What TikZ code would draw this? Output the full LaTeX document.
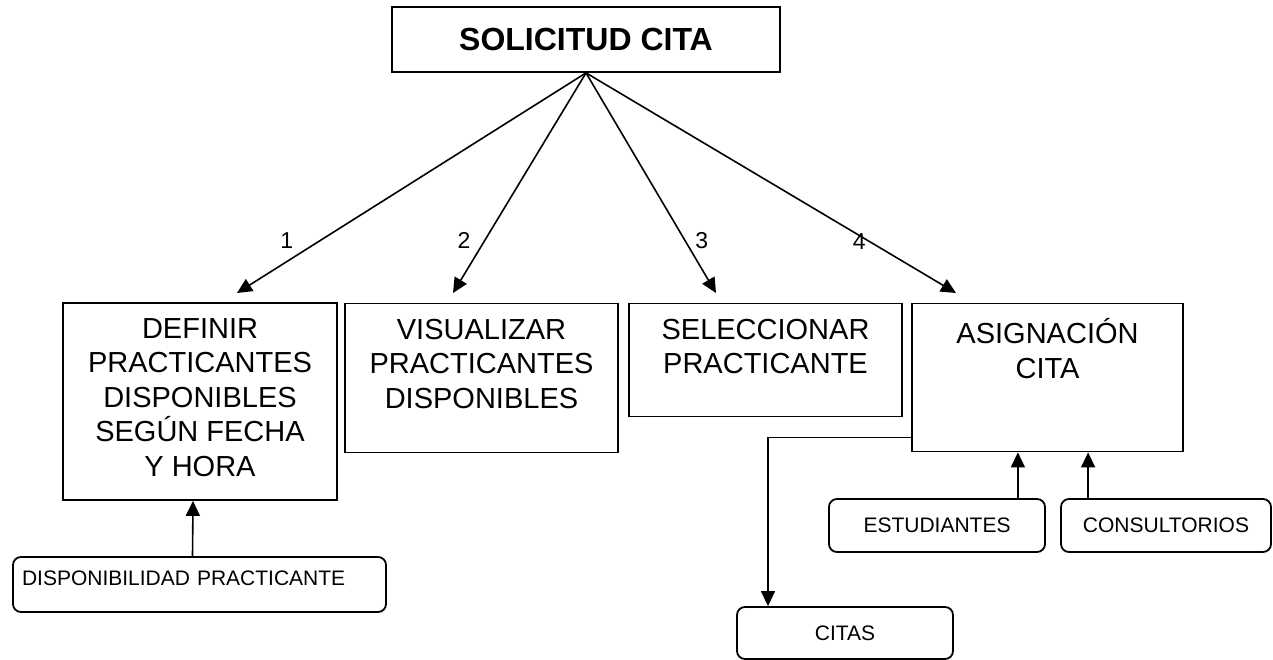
\documentclass[tikz,border=0pt]{standalone}
\usepackage{fontspec}
\setmainfont{Liberation Sans}
\usetikzlibrary{arrows.meta, positioning}

\begin{document}
\begin{tikzpicture}[
    x=1pt, y=-1pt,
    every node/.style={font=\fontsize{29}{34.5}\selectfont},
    proceso/.style={rectangle, draw, line width=1.8pt},
    texto/.style={inner sep=0pt, align=center, execute at begin node=\strut},
    tabla/.style={rectangle, draw, line width=1.8pt, rounded corners=8pt, font=\fontsize{21}{25}\selectfont},
    numero/.style={font=\fontsize{23}{27}\selectfont, inner sep=0pt},
    flecha/.style={-{Triangle[length=15pt,width=14pt]}, line width=1.6pt}
]
\useasboundingbox (0,0) rectangle (1273,660);

% Nodos
\node (solicitud) [proceso, minimum width=388pt, minimum height=65pt, font=\bfseries\fontsize{32}{38}\selectfont] at (586,39.5) {SOLICITUD CITA};

\node (definir) [proceso, minimum width=274pt, minimum height=197pt] at (200,401.5) {};
\node (definirtxt) [texto, below=16pt of definir.north] {DEFINIR\\PRACTICANTES\\DISPONIBLES\\SEGÚN FECHA\\Y HORA};
\node (visualizar) [proceso, minimum width=273pt, minimum height=149pt] at (481.5,378) {};
\node (visualizartxt) [texto, below=16pt of visualizar.north] {VISUALIZAR\\PRACTICANTES\\DISPONIBLES};
\node (seleccionar) [proceso, minimum width=273pt, minimum height=113pt] at (765.5,360) {};
\node (seleccionartxt) [texto, below=16pt of seleccionar.north] {SELECCIONAR\\PRACTICANTE};
\node (asignacion) [proceso, minimum width=271pt, minimum height=148pt] at (1047.5,377.5) {};
\node (asignaciontxt) [texto, below=16pt of asignacion.north] {ASIGNACIÓN\\CITA};

\node (disponibilidad) [tabla, text width=355pt, align=left, inner xsep=9pt, minimum height=55pt, text height=15pt, text depth=13pt] at (199.5,584.5) {DISPONIBILIDAD PRACTICANTE};
\node (estudiantes) [tabla, minimum width=216pt, minimum height=53pt] at (937,525.5) {ESTUDIANTES};
\node (consultorios) [tabla, minimum width=210pt, minimum height=53pt] at (1166,525.5) {CONSULTORIOS};
\node (citas) [tabla, minimum width=216pt, minimum height=52pt] at (845,633) {CITAS};

% Puntas de las flechas
\coordinate (p1) at (237,293);
\coordinate (p2) at (453,293);
\coordinate (p3) at (716,293);
\coordinate (p4) at (956,293);
\coordinate (e1) at ([xshift=-28pt]estudiantes.north east);
\coordinate (c1) at ([xshift=28pt]consultorios.north west);

% Flechas
\draw [flecha] (solicitud.south) -- node[numero, pos=0.76, xshift=-34pt] (n1) {1} (p1);
\draw [flecha] (solicitud.south) -- node[numero, pos=0.76, xshift=-21pt] (n2) {2} (p2);
\draw [flecha] (solicitud.south) -- node[numero, pos=0.76, xshift=17pt] (n3) {3} (p3);
\draw [flecha] (solicitud.south) -- node[numero, pos=0.76, xshift=-8pt, yshift=-1pt] (n4) {4} (p4);
\draw [flecha] ([xshift=-7pt]disponibilidad.north) -- ([xshift=-7pt]definir.south);
\draw [flecha] (e1) -- (e1 |- asignacion.south);
\draw [flecha] (c1) -- (c1 |- asignacion.south);
\draw [flecha] ([yshift=15pt]asignacion.south west) -| ([xshift=-77pt]citas.north);

\end{tikzpicture}
\end{document}
